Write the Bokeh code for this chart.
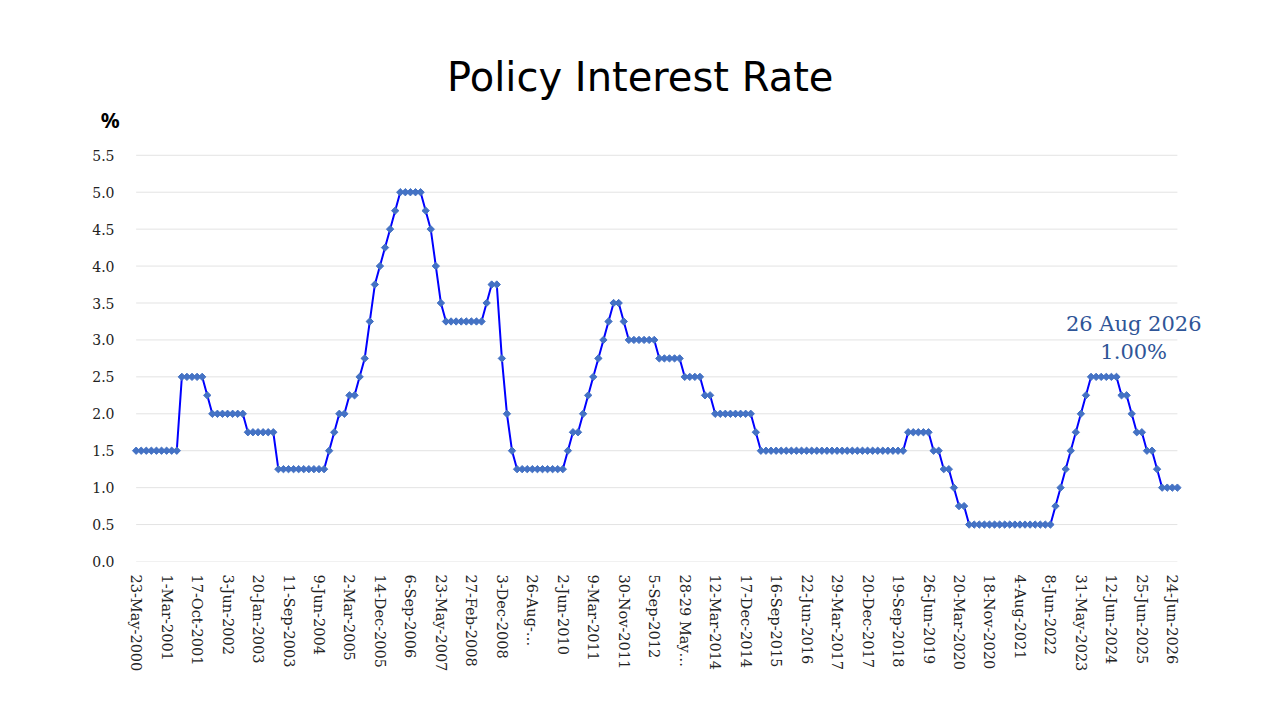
from bokeh.plotting import figure
from bokeh.models import (Range1d, FixedTicker, NumeralTickFormatter, Label,
                          ColumnDataSource)
from bokeh.embed import file_html
from bokeh.resources import INLINE
import numpy as np

# policy rate (%) at each MPC meeting, May 2000 .. Aug 2026
rates = [
    1.5, 1.5, 1.5, 1.5, 1.5, 1.5, 1.5, 1.5, 1.5,
    2.5, 2.5, 2.5, 2.5, 2.5, 2.25,
    2.0, 2.0, 2.0, 2.0, 2.0, 2.0, 2.0,
    1.75, 1.75, 1.75, 1.75, 1.75, 1.75,
    1.25, 1.25, 1.25, 1.25, 1.25, 1.25, 1.25, 1.25, 1.25, 1.25,
    1.5, 1.75, 2.0, 2.0, 2.25, 2.25, 2.5, 2.75, 3.25, 3.75,
    4.0, 4.25, 4.5, 4.75,
    5.0, 5.0, 5.0, 5.0, 5.0,
    4.75, 4.5, 4.0, 3.5,
    3.25, 3.25, 3.25, 3.25, 3.25, 3.25, 3.25, 3.25,
    3.5, 3.75, 3.75, 2.75, 2.0, 1.5,
    1.25, 1.25, 1.25, 1.25, 1.25, 1.25, 1.25, 1.25, 1.25, 1.25,
    1.5, 1.75, 1.75, 2.0, 2.25, 2.5, 2.75, 3.0, 3.25, 3.5, 3.5, 3.25,
    3.0, 3.0, 3.0, 3.0, 3.0, 3.0,
    2.75, 2.75, 2.75, 2.75, 2.75,
    2.5, 2.5, 2.5, 2.5,
    2.25, 2.25,
    2.0, 2.0, 2.0, 2.0, 2.0, 2.0, 2.0, 2.0,
    1.75,
    1.5, 1.5, 1.5, 1.5, 1.5, 1.5, 1.5, 1.5, 1.5, 1.5,
    1.5, 1.5, 1.5, 1.5, 1.5, 1.5, 1.5, 1.5, 1.5, 1.5,
    1.5, 1.5, 1.5, 1.5, 1.5, 1.5, 1.5, 1.5, 1.5,
    1.75, 1.75, 1.75, 1.75, 1.75,
    1.5, 1.5, 1.25, 1.25, 1.0, 0.75, 0.75,
    0.5, 0.5, 0.5, 0.5, 0.5, 0.5, 0.5, 0.5, 0.5, 0.5,
    0.5, 0.5, 0.5, 0.5, 0.5, 0.5, 0.5,
    0.75, 1.0, 1.25, 1.5, 1.75, 2.0, 2.25,
    2.5, 2.5, 2.5, 2.5, 2.5, 2.5,
    2.25, 2.25, 2.0, 1.75, 1.75, 1.5, 1.5, 1.25,
    1.0, 1.0, 1.0, 1.0,
]

# every sixth meeting gets a label
tick_labels = [
    "23-May-2000", "1-Mar-2001", "17-Oct-2001", "3-Jun-2002", "20-Jan-2003",
    "11-Sep-2003", "9-Jun-2004", "2-Mar-2005", "14-Dec-2005", "6-Sep-2006",
    "23-May-2007", "27-Feb-2008", "3-Dec-2008", "26-Aug-\u2026", "2-Jun-2010",
    "9-Mar-2011", "30-Nov-2011", "5-Sep-2012", "28-29 May\u2026", "12-Mar-2014",
    "17-Dec-2014", "16-Sep-2015", "22-Jun-2016", "29-Mar-2017", "20-Dec-2017",
    "19-Sep-2018", "26-Jun-2019", "20-Mar-2020", "18-Nov-2020", "4-Aug-2021",
    "8-Jun-2022", "31-May-2023", "12-Jun-2024", "25-Jun-2025", "24-Jun-2026",
]
label_every = 6
y_levels = [0.0, 0.5, 1.0, 1.5, 2.0, 2.5, 3.0, 3.5, 4.0, 4.5, 5.0, 5.5]

last_date = "26 Aug 2026"
last_rate = rates[-1]


def main():
    n = len(rates)
    x = list(range(n))
    src = ColumnDataSource(data=dict(x=x, y=rates))

    # the frame is larger than the data area so that title, unit and the
    # note can live inside it as labels
    px_x = 1041 / (n - 1)
    px_y = 406 / 5.5
    x_start, x_end = -8.0, n - 1 + 7.5
    y_end = 7.0
    left = int(round(136 + x_start * px_x))
    fh = int(round(y_end * px_y))
    p = figure(frame_width=int(round((x_end - x_start) * px_x)), frame_height=fh,
               min_border_left=left, min_border_right=40,
               min_border_top=561 - fh, min_border_bottom=151,
               x_range=Range1d(x_start, x_end), y_range=Range1d(0, y_end),
               output_backend="svg", toolbar_location=None,
               background_fill_color="white", border_fill_color="white")
    p.outline_line_color = None

    # horizontal grid only as wide as the series
    p.xgrid.visible = False
    p.ygrid.visible = False
    p.segment(x0=[0] * len(y_levels), x1=[n - 1] * len(y_levels),
              y0=y_levels, y1=y_levels, line_color="#E3E3E3", line_width=1)

    p.line("x", "y", source=src, line_color="#0000FF", line_width=2)
    p.scatter("x", "y", source=src, marker="square", angle=np.pi / 4,
              size=5.2, fill_color="#4472C4", line_color="#4472C4")

    # y axis, labels pulled in next to the data area
    p.yaxis.ticker = FixedTicker(ticks=y_levels)
    p.yaxis.formatter = NumeralTickFormatter(format="0.0")
    p.yaxis.axis_line_color = None
    p.yaxis.major_tick_line_color = None
    p.yaxis.minor_tick_line_color = None
    p.yaxis.major_label_standoff = left - 120
    p.yaxis.major_label_text_font = "DejaVu Serif"
    p.yaxis.major_label_text_font_size = "14px"
    p.yaxis.major_label_text_color = "#222222"

    # x axis
    ticks = list(range(0, n, label_every))
    p.xaxis.ticker = FixedTicker(ticks=ticks)
    p.xaxis.major_label_overrides = {t: lab for t, lab in zip(ticks, tick_labels)}
    p.xaxis.major_label_orientation = "vertical"
    p.xaxis.axis_line_color = None
    p.xaxis.major_tick_line_color = None
    p.xaxis.minor_tick_line_color = None
    p.xaxis.major_label_standoff = 7
    p.xaxis.major_label_text_font = "DejaVu Serif"
    p.xaxis.major_label_text_font_size = "14.5px"
    p.xaxis.major_label_text_color = "#222222"

    # title and unit
    p.add_layout(Label(x=(640 - 136) / px_x, y=(561 - 77) / px_y,
                       text="Policy Interest Rate", text_align="center",
                       text_baseline="middle", text_font="DejaVu Sans",
                       text_font_size="40px", text_color="black"))
    p.add_layout(Label(x=(110 - 136) / px_x, y=(561 - 120) / px_y, text="%",
                       text_align="center", text_baseline="middle",
                       text_font="Noto Sans", text_font_size="21px",
                       text_font_style="bold", text_color="black"))

    # last value note
    p.add_layout(Label(x=196.4, y=3.21, text=last_date, text_align="center",
                       text_baseline="middle", text_font="DejaVu Serif",
                       text_font_size="21px", text_color="#2F5597"))
    p.add_layout(Label(x=196.4, y=2.83, text="%.2f%%" % last_rate,
                       text_align="center", text_baseline="middle",
                       text_font="DejaVu Serif", text_font_size="21px",
                       text_color="#2F5597"))

    open("out.html", "w").write(file_html(p, INLINE))


if __name__ == "__main__":
    main()
